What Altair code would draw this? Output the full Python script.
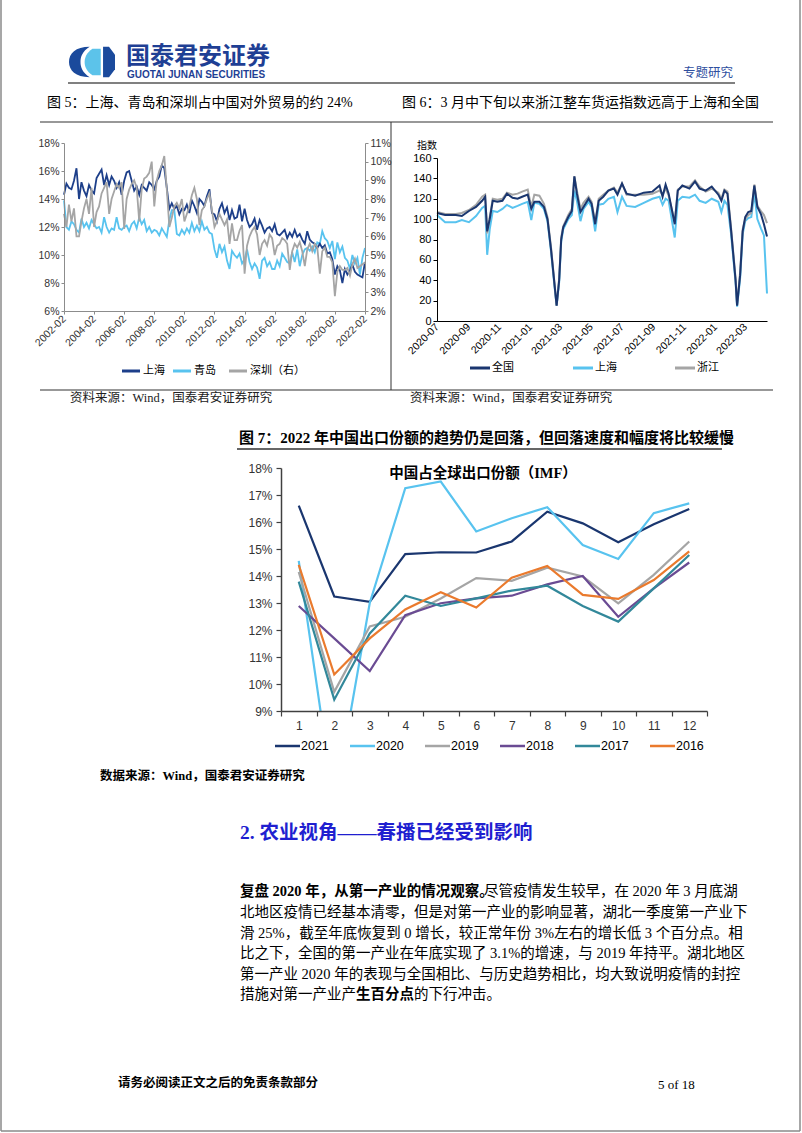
import altair as alt
import pandas as pd

CJK = "Noto Sans CJK SC"
SANS = "Liberation Sans"
MIX = "Liberation Serif, Noto Sans CJK SC"

NAVY = "#1d3f8a"
NAVY_DK = "#1a366f"
LIGHT = "#58c3ef"
GREY = "#a5a5a5"
PURPLE = "#6a4b93"
TEAL = "#32889a"
ORANGE = "#ea7a2d"
LOGO_DARK = "#1b4a9c"
LOGO_LIGHT = "#5cc3ea"

# ---------------- Figure 5 data (bi-monthly, 2002-02 .. 2022-02) ----------------
fig5_names = ["上海", "青岛", "深圳（右）"]
fig5_dates = [d.strftime("%Y-%m-%dT00:00:00") for d in pd.date_range("2002-02-01", "2022-02-01", freq="2MS")]
fig5_shanghai = [
    14.3, 15.1, 14.8, 14.7, 15.3, 16.2,
    14.0, 15.2, 14.6, 14.2, 15.0, 14.6,
    14.4, 15.5, 15.8, 16.1, 15.0, 15.7,
    15.0, 15.6, 15.3, 14.8, 15.2, 14.3,
    15.3, 15.9, 16.0, 15.3, 14.6, 14.9,
    14.3, 15.0, 14.8, 14.6, 15.2, 15.0,
    14.7, 15.3, 15.6, 16.4, 16.2, 14.8,
    13.3, 13.7, 13.3, 13.5, 12.9, 13.3,
    13.2, 13.6, 13.0, 13.9, 13.5, 13.0,
    14.0, 13.8, 13.5, 14.2, 14.7, 13.0,
    12.9, 12.4, 13.3, 13.7, 13.0, 13.4,
    12.5, 13.2, 12.6, 12.7, 13.6, 12.4,
    13.3, 12.5, 12.0, 12.2, 12.6, 11.8,
    12.5, 12.1, 11.6, 11.9, 12.0, 11.7,
    12.2, 11.5, 11.4, 11.6, 11.8, 11.2,
    11.6, 11.3, 11.8, 11.3, 11.5, 11.1,
    10.8, 11.7, 11.1, 10.9, 10.8, 10.5,
    10.8, 10.5, 10.7, 10.1, 10.2, 9.7,
    8.6, 9.2, 8.9, 8.0, 9.0, 8.6,
    8.9, 9.3, 8.8, 8.6, 8.5, 8.4,
    9.5,
]
fig5_qingdao = [
    13.9, 12.0, 11.8, 12.4, 12.2, 11.8,
    11.6, 12.6, 12.0, 12.3, 11.9, 12.5,
    12.2, 11.9, 12.0, 11.6, 12.7, 12.0,
    11.6, 11.9, 11.8, 12.7, 11.9, 11.8,
    12.0, 12.1, 11.7, 12.2, 12.4, 11.9,
    12.7, 12.2, 12.5, 11.7, 12.0, 11.6,
    11.8, 11.7, 11.4, 11.9, 11.6, 11.3,
    12.5, 13.2, 13.2, 11.5, 11.4, 11.8,
    11.5, 11.9, 11.6, 12.3, 11.7, 12.1,
    11.7, 12.4, 11.8, 12.0, 11.6, 11.5,
    10.4, 9.8, 10.8, 10.2, 10.6, 9.6,
    9.0, 10.3, 10.0, 9.8, 10.1, 9.4,
    9.7, 10.4, 9.5, 9.0, 9.4, 9.1,
    8.3, 9.6, 9.8, 9.2, 9.5, 9.0,
    9.0, 9.6, 9.2, 10.1, 9.8, 9.5,
    9.4, 10.2, 9.5, 10.4, 9.2, 10.0,
    10.4, 10.5, 10.3, 10.6, 10.2, 10.9,
    10.8, 11.7, 11.2, 11.0, 10.5, 11.0,
    9.7, 10.9, 10.2, 10.6, 9.8, 9.6,
    9.0, 10.0, 9.4, 9.8, 8.6, 9.8,
    10.5,
]
fig5_shenzhen = [
    7.2, 6.5, 7.7, 6.8, 7.5, 6.0,
    6.0, 6.8, 7.5, 8.0, 7.2, 8.6,
    6.5, 7.3, 7.6, 8.3, 8.6, 8.9,
    7.2, 8.0, 8.4, 8.8, 8.6, 8.9,
    6.4, 8.0, 8.5, 8.8, 9.0, 8.6,
    6.8, 8.5, 9.1, 9.2, 9.4, 10.0,
    7.6, 9.0, 9.5, 9.8, 10.3, 8.5,
    6.5, 7.0, 7.6, 7.8, 7.5, 8.0,
    6.8, 7.2, 7.6, 8.2, 8.6, 8.0,
    6.6, 7.4, 7.6, 8.0, 8.3, 7.4,
    6.5, 6.8, 7.2, 6.9, 6.6, 6.9,
    5.6, 6.7, 5.8, 5.8, 6.3, 6.6,
    4.0, 5.5, 6.0, 6.3, 6.5, 6.1,
    5.0, 5.6, 5.8, 5.5, 6.1, 5.9,
    5.0, 5.5, 5.6, 5.9, 5.8, 5.6,
    4.2, 5.2, 5.6, 5.4, 5.7, 5.2,
    4.4, 5.3, 5.6, 5.2, 5.6, 5.4,
    4.0, 5.2, 5.4, 4.9, 4.9, 4.6,
    2.8, 4.1, 4.4, 4.2, 4.2, 4.3,
    3.9, 4.5, 4.8, 4.3, 4.4, 4.5,
    4.6,
]
fig5_left_ticks = [6, 8, 10, 12, 14, 16, 18]
fig5_right_ticks = [2, 3, 4, 5, 6, 7, 8, 9, 10, 11]
fig5_tick_years = list(range(2002, 2023, 2))

# ---------------- Figure 6 data ----------------
fig6_names = ["全国", "上海", "浙江"]
fig6_dates = [
    "2020-07-01", "2020-07-17", "2020-08-07", "2020-08-19", "2020-09-02", "2020-09-16", "2020-09-28",
    "2020-10-04", "2020-10-08", "2020-10-13", "2020-10-19", "2020-10-28", "2020-11-07", "2020-11-16",
    "2020-11-27", "2020-12-07", "2020-12-16", "2020-12-27", "2021-01-03", "2021-01-09", "2021-01-19",
    "2021-01-28", "2021-02-04", "2021-02-11", "2021-02-18", "2021-02-22", "2021-02-27", "2021-03-03",
    "2021-03-07", "2021-03-17", "2021-03-24", "2021-03-29", "2021-04-03", "2021-04-10", "2021-04-16",
    "2021-04-26", "2021-05-02", "2021-05-09", "2021-05-16", "2021-05-25", "2021-06-04", "2021-06-15",
    "2021-06-22", "2021-07-01", "2021-07-10", "2021-07-27", "2021-08-13", "2021-08-30", "2021-09-13",
    "2021-09-19", "2021-09-25", "2021-10-01", "2021-10-13", "2021-10-19", "2021-10-28", "2021-11-11",
    "2021-11-22", "2021-12-01", "2021-12-13", "2021-12-25", "2022-01-07", "2022-01-13", "2022-01-19",
    "2022-01-25", "2022-02-01", "2022-02-10", "2022-02-13", "2022-02-19", "2022-02-24", "2022-03-01",
    "2022-03-07", "2022-03-13", "2022-03-19", "2022-03-25", "2022-04-01", "2022-04-07", "2022-04-13",
]
fig6_national = [
    106, 104, 104, 103, 108, 112, 118, 122, 88, 100, 118, 117, 118, 125, 121, 120, 122, 124,
    110, 117, 117, 112, 100, 70, 35, 15, 40, 80, 92, 102, 108, 142, 125, 107, 112, 120,
    115, 95, 118, 122, 128, 130, 124, 135, 125, 123, 126, 127, 133, 122, 134, 125, 95, 128, 133,
    130, 137, 130, 128, 132, 124, 118, 128, 125, 90, 40, 15, 45, 88, 102, 107, 108, 133, 112,
    105, 95, 83,
]
fig6_shanghai = [
    104, 97, 97, 99, 97, 103, 111, 113, 65, 90, 108, 107, 110, 114, 111, 113, 115, 117,
    99, 116, 115, 110, 98, 68, 33, 15, 38, 78, 90, 100, 104, 128, 118, 98, 110, 117,
    112, 88, 114, 115, 120, 122, 107, 122, 113, 112, 116, 120, 122, 114, 120, 118, 82, 118, 122,
    121, 124, 118, 116, 120, 117, 107, 118, 114, 86, 38, 14, 42, 85, 98, 101, 102, 125, 100,
    91, 84, 27,
]
fig6_zhejiang = [
    107, 105, 105, 106, 109, 114, 122, 124, 86, 102, 120, 119, 120, 126, 124, 125, 127, 129,
    112, 124, 123, 115, 102, 72, 36, 15, 42, 82, 93, 104, 110, 142, 128, 110, 116, 122,
    117, 96, 120, 124, 128, 131, 126, 135, 124, 124, 124, 125, 128, 124, 130, 123, 97, 129, 132,
    132, 138, 132, 127, 130, 126, 120, 129, 127, 92, 42, 16, 48, 90, 100, 104, 106, 134, 113,
    108, 104, 96,
]
fig6_y_ticks = [0, 20, 40, 60, 80, 100, 120, 140, 160]
fig6_x_ticks = [(2020, 7), (2020, 9), (2020, 11), (2021, 1), (2021, 3), (2021, 5), (2021, 7),
                (2021, 9), (2021, 11), (2022, 1), (2022, 3)]

# ---------------- Figure 7 data ----------------
fig7_months = [str(m) for m in range(1, 13)]
fig7_years = ["2021", "2020", "2019", "2018", "2017", "2016"]
fig7_2021 = [16.61, 13.24, 13.04, 14.81, 14.88, 14.87, 15.28, 16.38, 15.95, 15.25, 15.92, 16.48]
fig7_2020 = [14.56, 5.5, 13.0, 17.25, 17.5, 15.65, 16.14, 16.55, 15.15, 14.63, 16.33, 16.69]
fig7_2019 = [14.15, 9.71, 12.13, 12.49, 13.17, 13.92, 13.82, 14.31, 13.98, 12.99, 14.04, 15.28]
fig7_2018 = [12.89, 11.69, 10.48, 12.55, 12.99, 13.17, 13.27, 13.69, 14.0, 12.49, 13.54, 14.5]
fig7_2017 = [13.79, 9.42, 11.87, 13.27, 12.89, 13.17, 13.46, 13.64, 12.89, 12.31, 13.54, 14.78]
fig7_2016 = [14.41, 10.35, 11.69, 12.76, 13.40, 12.83, 13.94, 14.37, 13.30, 13.15, 13.85, 14.91]
fig7_colors = [NAVY_DK, LIGHT, GREY, PURPLE, TEAL, ORANGE]
fig7_y_ticks = list(range(9, 19))

# ---------------- text ----------------
para_line1_bold = "复盘 2020 年，从第一产业的情况观察。"
para_line1_rest = "尽管疫情发生较早，在 2020 年 3 月底湖"
para_mid_lines = [
    "北地区疫情已经基本清零，但是对第一产业的影响显著，湖北一季度第一产业下",
    "滑 25%，截至年底恢复到 0 增长，较正常年份 3%左右的增长低 3 个百分点。相",
    "比之下，全国的第一产业在年底实现了 3.1%的增速，与 2019 年持平。湖北地区",
    "第一产业 2020 年的表现与全国相比、与历史趋势相比，均大致说明疫情的封控",
]
para_last = ["措施对第一产业产", "生百分点", "的下行冲击。"]


def dt(y, m, d=1):
    return alt.DateTime(year=y, month=m, date=d)


def T(s, x, y, size=12, weight="normal", color="#000000", align="left", font=CJK):
    return alt.Chart(pd.DataFrame({"t": [s]})).mark_text(
        align=align, baseline="middle", fontSize=size, fontWeight=weight, color=color, font=font
    ).encode(x=alt.value(x), y=alt.value(y), text="t:N")


def R(x1, y1, x2, y2, color="#000000", w=1.0):
    return alt.Chart(pd.DataFrame({"a": [0]})).mark_rule(color=color, strokeWidth=w).encode(
        x=alt.value(x1), x2=alt.value(x2), y=alt.value(y1), y2=alt.value(y2))


def logo_part(path, color):
    return alt.Chart(pd.DataFrame({"a": [0]})).mark_point(
        shape=path, filled=True, color=color, opacity=1, size=2116, strokeWidth=0
    ).encode(x=alt.value(92), y=alt.value(62))


H = 1133
W = 802

# ---------------- Figure 5 layers ----------------
x5 = alt.Scale(domain=[dt(2002, 2), dt(2022, 2)], range=[64, 365])
df5a = pd.DataFrame({
    "date": fig5_dates * 2,
    "value": fig5_qingdao + fig5_shanghai,
    "series": [fig5_names[1]] * len(fig5_dates) + [fig5_names[0]] * len(fig5_dates),
})
df5b = pd.DataFrame({"date": fig5_dates, "value": fig5_shenzhen})
ax5 = dict(domainColor="#8c8c8c", tickColor="#8c8c8c", labelColor="#333333", labelFont=SANS,
           labelFontSize=10.5, grid=False, title=None, zindex=1, tickSize=3)

f5a = alt.Chart(df5a).mark_line(strokeWidth=1.8).encode(
    x=alt.X("date:T", scale=x5, axis=alt.Axis(orient="bottom", offset=-(H - 311),
            values=[dt(y, 2) for y in fig5_tick_years], format="%Y-%m", formatType="time",
            labelAngle=315, labelAlign="right", labelBaseline="middle", labelPadding=3,
            labelFlush=False, labelOverlap=False, **ax5)),
    y=alt.Y("value:Q", scale=alt.Scale(domain=[6, 18], range=[311, 143], nice=False, zero=False),
            axis=alt.Axis(orient="left", offset=-64, values=fig5_left_ticks,
                          labelExpr="datum.value + '%'", **ax5)),
    color=alt.Color("series:N", scale=alt.Scale(domain=[fig5_names[1], fig5_names[0]], range=[LIGHT, NAVY]),
                    legend=None),
)
f5b = alt.Chart(df5b).mark_line(strokeWidth=1.8, color=GREY).encode(
    x=alt.X("date:T", scale=x5, axis=None),
    y=alt.Y("value:Q", scale=alt.Scale(domain=[2, 11], range=[311, 143], nice=False, zero=False),
            axis=alt.Axis(orient="right", offset=-(W - 365), values=fig5_right_ticks,
                          labelExpr="datum.value + '%'", **ax5)),
)

# ---------------- Figure 6 layers ----------------
x6 = alt.Scale(domain=[dt(2020, 7), dt(2022, 4, 13)], range=[437, 767])
y6 = alt.Scale(domain=[0, 160], range=[321, 158], nice=False, zero=False)
ax6 = dict(domainColor="#000000", tickColor="#000000", labelColor="#000000", labelFont=SANS,
           labelFontSize=11, grid=False, title=None, zindex=1)


def f6_layer(values, color, with_axes):
    df = pd.DataFrame({"date": [d + "T00:00:00" for d in fig6_dates], "value": values})
    if with_axes:
        xa = alt.Axis(orient="bottom", offset=-(H - 321), values=[dt(y, m) for y, m in fig6_x_ticks],
                      format="%Y-%m", formatType="time", labelAngle=315, labelAlign="right",
                      labelBaseline="middle", labelPadding=4, ticks=False, labelFlush=False,
                      labelOverlap=False, labelFontSize=10.5,
                      **{k: v for k, v in ax6.items() if k != "labelFontSize"})
        ya = alt.Axis(orient="left", offset=-437, values=fig6_y_ticks, tickSize=4, **ax6)
    else:
        xa = None
        ya = None
    return alt.Chart(df).mark_line(strokeWidth=2, color=color).encode(
        x=alt.X("date:T", scale=x6, axis=xa),
        y=alt.Y("value:Q", scale=y6, axis=ya),
    )


f6_sh = f6_layer(fig6_shanghai, LIGHT, True)
f6_zj = f6_layer(fig6_zhejiang, GREY, False)
f6_nat = f6_layer(fig6_national, NAVY_DK, False)

# ---------------- Figure 7 layers ----------------
fig7_series = [fig7_2021, fig7_2020, fig7_2019, fig7_2018, fig7_2017, fig7_2016]
rows = []
for yr, vals in zip(fig7_years, fig7_series):
    for m, v in zip(fig7_months, vals):
        rows.append({"m": m, "v": v, "year": yr})
df7 = pd.DataFrame(rows)
ax7 = dict(domainColor="#404040", tickColor="#404040", labelColor="#333333", labelFont=SANS,
           labelFontSize=12, grid=False, title=None, zindex=1, domainWidth=1.5, tickWidth=1.2, tickSize=5)
f7 = alt.Chart(df7).mark_line(strokeWidth=2.2).encode(
    x=alt.X("m:O", sort=fig7_months,
            scale=alt.Scale(type="band", domain=fig7_months, range=[281, 707], paddingInner=0, paddingOuter=0),
            axis=alt.Axis(orient="bottom", offset=-(H - 711), tickBand="extent", labelAngle=0,
                          labelPadding=4, **ax7)),
    y=alt.Y("v:Q", scale=alt.Scale(domain=[9, 18], range=[711, 468], nice=False, zero=False),
            axis=alt.Axis(orient="left", offset=-281, values=fig7_y_ticks,
                          labelExpr="datum.value + '%'", labelPadding=4, **ax7)),
    color=alt.Color("year:N", scale=alt.Scale(domain=fig7_years, range=fig7_colors), legend=None),
)
cover7 = alt.Chart(pd.DataFrame({"a": [0]})).mark_rect(color="white").encode(
    x=alt.value(312), x2=alt.value(358), y=alt.value(712), y2=alt.value(812))

layers = [f5a, f5b, f6_sh, f6_zj, f6_nat, f7, cover7]

# ---------------- page furniture ----------------
layers += [
    logo_part("M-0.1,-0.66 C-0.72,-0.66 -1,-0.36 -1,0 C-1,0.36 -0.72,0.66 -0.1,0.66 "
              "C-0.42,0.46 -0.5,0.22 -0.5,0 C-0.5,-0.22 -0.42,-0.46 -0.1,-0.66 Z", LOGO_DARK),
    logo_part("M0.02,-0.58 L0.38,-0.58 L0.38,0.58 L0.02,0.58 C-0.24,0.4 -0.32,0.2 -0.32,0 "
              "C-0.32,-0.2 -0.24,-0.4 0.02,-0.58 Z", LOGO_LIGHT),
    logo_part("M0.48,-0.66 L0.74,-0.66 L1,-0.32 L1,0.32 L0.74,0.66 L0.48,0.66 Z", LOGO_DARK),
]
layers += [
    T("国泰君安证券", 126, 56.5, size=24, weight="bold", color="#1f3f94"),
    T("GUOTAI JUNAN SECURITIES", 127, 75, size=10, weight="bold", color="#1f3f94", font=SANS),
    T("专题研究", 733, 73, size=12.5, color="#2f4f9f", align="right"),
    R(68, 83, 735, 83, color="#808080", w=2),
    T("图 5：上海、青岛和深圳占中国对外贸易的约 24%", 47, 103, size=14, font=MIX),
    T("图 6：3 月中下旬以来浙江整车货运指数远高于上海和全国", 402, 103, size=14, font=MIX),
    R(40, 122, 773, 122, color="#333333", w=1.2),
    R(391, 122, 391, 390, color="#333333", w=1),
    R(40, 390, 773, 390, color="#333333", w=1.2),
    T("资料来源：Wind，国泰君安证券研究", 70, 398, size=12.5, color="#222222", font=MIX),
    T("资料来源：Wind，国泰君安证券研究", 410, 398, size=12.5, color="#222222", font=MIX),
    T("指数", 427, 146, size=10, align="center"),
]
for name, color, x0 in zip(fig5_names, [NAVY, LIGHT, GREY], [122, 173, 229]):
    layers += [R(x0, 371, x0 + 18, 371, color=color, w=3), T(name, x0 + 21, 371, size=11)]
for name, color, x0 in zip(fig6_names, [NAVY_DK, LIGHT, GREY], [470, 573, 675]):
    layers += [R(x0, 368, x0 + 20, 368, color=color, w=3), T(name, x0 + 22, 368, size=11)]
layers += [
    T("图 7：2022 年中国出口份额的趋势仍是回落，但回落速度和幅度将比较缓慢", 239, 438, size=15,
      weight="bold", font=MIX),
    R(237, 449, 722, 449, color="#333333", w=1.5),
    T("中国占全球出口份额（IMF）", 483, 474, size=14.5, weight="bold", align="center", font=MIX),
]
for name, color, x0 in zip(fig7_years, fig7_colors, [275, 350, 425, 500, 575, 650]):
    layers += [R(x0, 746, x0 + 25, 746, color=color, w=2.5), T(name, x0 + 26, 746, size=12.5, font=SANS)]
layers += [
    T("数据来源：Wind，国泰君安证券研究", 100, 776, size=12.5, weight="bold", font=MIX),
    T("2. 农业视角——春播已经受到影响", 240, 833, size=19.5, weight="bold", color="#1f1fd0", font=MIX),
    T(para_line1_bold, 240, 892, size=14.5, weight="bold", font=MIX),
    T(para_line1_rest, 484, 892, size=14.5, font=MIX),
]
for i, line in enumerate(para_mid_lines):
    layers.append(T(line, 240, 913 + i * 20.5, size=14.5, font=MIX))
layers += [
    T(para_last[0], 240, 995, size=14.5, font=MIX),
    T(para_last[1], 356, 995, size=14.5, weight="bold", font=MIX),
    T(para_last[2], 414, 995, size=14.5, font=MIX),
    T("请务必阅读正文之后的免责条款部分", 118, 1083, size=12.5, weight="bold", font=MIX),
    T("5 of 18", 658, 1085, size=13, font="Liberation Serif"),
    R(1, 0, 1, 1131, color="#8a8a8a", w=1.5),
    R(800, 0, 800, 1131, color="#8a8a8a", w=1.5),
    R(1, 1131, 800, 1131, color="#8a8a8a", w=1.5),
]

chart = alt.layer(*layers).resolve_scale(
    x="independent", y="independent", color="independent"
).properties(
    width=W, height=H, autosize=alt.AutoSizeParams(type="none"), padding=0, background="white"
).configure_view(stroke=None)

chart.save("out.html", embed_options={"renderer": "svg", "actions": False})
